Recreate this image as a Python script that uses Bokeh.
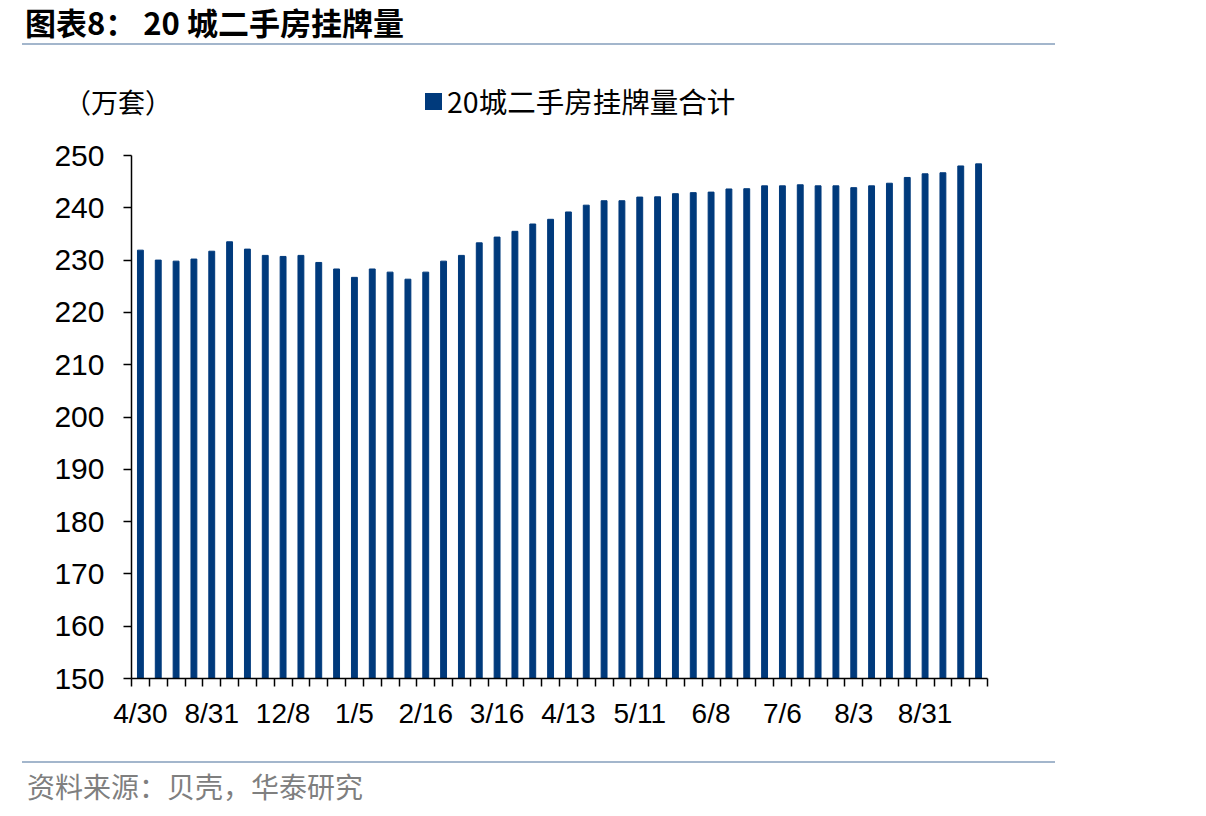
from bokeh.plotting import figure
from bokeh.models import Range1d, FixedTicker, Div
from bokeh.layouts import column
from bokeh.embed import file_html
from bokeh.resources import INLINE

# ---- data ----
values = [231.9, 230.0, 229.8, 230.2, 231.7, 233.5, 232.1, 230.9, 230.7, 230.9,
          229.55, 228.3, 226.7, 228.3, 227.7, 226.35, 227.7, 229.8, 230.9, 233.3,
          234.4, 235.5, 236.9, 237.8, 239.2, 240.5, 241.35, 241.35, 242.05, 242.1,
          242.7, 242.9, 243.0, 243.6, 243.65, 244.2, 244.2, 244.4, 244.2, 244.2,
          243.85, 244.2, 244.7, 245.8, 246.5, 246.7, 248.0, 248.4]
tick_labels = ["4/30", "8/31", "12/8", "1/5", "2/16", "3/16", "4/13", "5/11",
               "6/8", "7/6", "8/3", "8/31"]
tick_positions = [0, 4, 8, 12, 16, 20, 24, 28, 32, 36, 40, 44]
y_ticks = [150, 160, 170, 180, 190, 200, 210, 220, 230, 240, 250]
series_name = "20城二手房挂牌量合计"
title_text = "图表8： 20 城二手房挂牌量"
unit_text = "（万套）"
source_text = "资料来源：贝壳，华泰研究"

xs = list(range(len(values)))

# ---- layout constants (canvas px) ----
W, H = 1206, 816
HEAD, FOOT = 120, 80
FL, FR, FT, FB = 131, 987, 155, 678
BAR = "#003A7C"
RULE = "#A3B6CC"
CJK = "'Noto Sans CJK SC', sans-serif"

header = Div(width=W, height=HEAD, margin=0, text=f"""
<div style="position:relative;width:{W}px;height:{HEAD}px;font-family:{CJK};">
  <div style="position:absolute;left:25px;top:5px;font-size:31px;line-height:34px;font-weight:bold;color:#000;white-space:nowrap;">{title_text}</div>
  <div style="position:absolute;left:22px;top:43px;width:1033px;height:2px;background:{RULE};"></div>
  <div style="position:absolute;left:64px;top:86px;font-size:27px;line-height:32px;color:#000;white-space:nowrap;">{unit_text}</div>
  <div style="position:absolute;left:425px;top:93px;width:17px;height:17px;background:{BAR};"></div>
  <div style="position:absolute;left:447px;top:85px;font-size:28.5px;line-height:32px;color:#000;white-space:nowrap;">{series_name}</div>
</div>""")

footer = Div(width=W, height=FOOT, margin=0, text=f"""
<div style="position:relative;width:{W}px;height:{FOOT}px;font-family:{CJK};">
  <div style="position:absolute;left:22px;top:25px;width:1033px;height:2px;background:{RULE};"></div>
  <div style="position:absolute;left:27px;top:35px;font-size:28px;line-height:30px;color:#7F7F7F;white-space:nowrap;">{source_text}</div>
</div>""")

PH = H - HEAD - FOOT
p = figure(width=W, height=PH, output_backend="svg", toolbar_location=None,
           x_range=Range1d(-0.5, len(values) - 0.5), y_range=Range1d(150, 250),
           min_border_left=FL, min_border_right=W - FR, min_border_top=FT - HEAD,
           min_border_bottom=PH - (FB - HEAD), margin=0)
p.outline_line_color = None
p.xgrid.visible = False
p.ygrid.visible = False
p.background_fill_color = "white"
p.border_fill_color = "white"

p.vbar(x=xs, top=values, bottom=150, width=0.33, color=BAR)

# y axis
ya = p.yaxis[0]
ya.ticker = FixedTicker(ticks=y_ticks)
ya.major_tick_out = 8
ya.major_tick_in = 0
ya.minor_tick_out = 0
ya.minor_tick_in = 0
ya.axis_line_color = "black"
ya.axis_line_width = 1.5
ya.major_tick_line_color = "black"
ya.major_tick_line_width = 1.5
ya.major_label_text_font = "Liberation Sans"
ya.major_label_text_font_size = "30px"
ya.major_label_text_color = "black"
ya.major_label_standoff = 19

# x axis
xa = p.xaxis[0]
xa.ticker = FixedTicker(ticks=tick_positions,
                        minor_ticks=[i - 0.5 for i in range(len(values) + 1)])
xa.major_label_overrides = {pos: lab for pos, lab in zip(tick_positions, tick_labels)}
xa.major_tick_out = 0
xa.major_tick_in = 0
xa.minor_tick_out = 8
xa.minor_tick_in = 0
xa.minor_tick_line_color = "black"
xa.minor_tick_line_width = 1.5
xa.axis_line_color = "black"
xa.axis_line_width = 1.5
xa.major_label_text_font = "Liberation Sans"
xa.major_label_text_font_size = "28px"
xa.major_label_text_color = "black"
xa.major_label_standoff = 11

layout = column(header, p, footer, spacing=0, margin=0, width=W, height=H)

open("out.html", "w").write(file_html(layout, INLINE))
